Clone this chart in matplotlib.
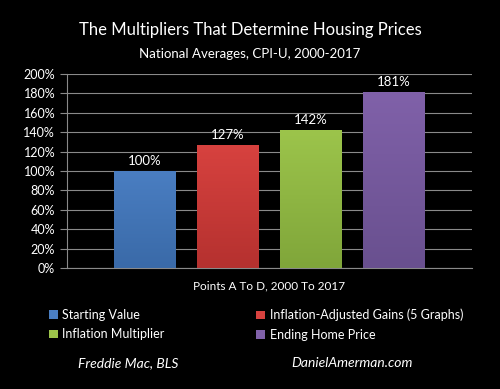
import numpy as np
import matplotlib.pyplot as plt
from matplotlib.patches import Patch
from matplotlib.colors import LinearSegmentedColormap

# data
series = ['Starting Value', 'Inflation-Adjusted Gains (5 Graphs)',
          'Inflation Multiplier', 'Ending Home Price']
values = [100, 127, 142, 181]
colors = ['#4a7ec2', '#d7423f', '#9cc44b', '#8061a9']
dark_colors = ['#3a6aa8', '#b5312f', '#80a63a', '#69508f']
yticks = [0, 20, 40, 60, 80, 100, 120, 140, 160, 180, 200]

plt.rcParams['font.family'] = ['Lato', 'DejaVu Sans']

fig = plt.figure(figsize=(5, 3.89), dpi=100, facecolor='black')
ax = fig.add_axes([0.134, 0.311, 0.81, 0.499], facecolor='black')

x = np.arange(len(values))
bars = ax.bar(x, values, width=0.747, color=colors, zorder=3,
              edgecolor='none')
# soft vertical gradient on each bar, like the office-style fill
grad = np.linspace(0, 1, 100).reshape(-1, 1)
for b, c, d, v in zip(bars, colors, dark_colors, values):
    cmap = LinearSegmentedColormap.from_list('g', [d, c])
    x0 = b.get_x()
    im = ax.imshow(grad, cmap=cmap, aspect='auto', origin='lower',
                   extent=(x0, x0 + b.get_width(), 0, v), zorder=3)
    im.set_clip_path(b)
    ax.text(x0 + b.get_width() / 2, v + 4, '%d%%' % v,
            ha='center', va='bottom', color='white', fontsize=9.5)

ax.set_xlim(-0.94, 3.94)
ax.set_ylim(0, 200)
ax.set_yticks(yticks)
ax.set_yticklabels(['%d%%' % t for t in yticks])
ax.yaxis.grid(True, color='#8a8a8a', linewidth=0.8, zorder=0)
ax.set_xticks([])
ax.tick_params(axis='y', colors='#8a8a8a', labelcolor='white',
               labelsize=9, length=5, width=0.8)
for s in ['top', 'right']:
    ax.spines[s].set_visible(False)
ax.spines['left'].set_color('#8a8a8a')
ax.spines['bottom'].set_color('#8a8a8a')

ax.set_xlabel('Points A To D, 2000 To 2017', color='white',
              fontsize=8.5, labelpad=9)

fig.text(0.5, 0.922, 'The Multipliers That Determine Housing Prices',
         ha='center', va='center', color='white', fontsize=12)
fig.text(0.5, 0.862, 'National Averages, CPI-U, 2000-2017',
         ha='center', va='center', color='white', fontsize=9.5)

# two legend columns, filled row by row like the reference
handles = [Patch(facecolor=c) for c in colors]
for col, xpos in [(0, 0.075), (1, 0.49)]:
    fig.legend(handles[col::2], series[col::2], loc='upper left',
               bbox_to_anchor=(xpos, 0.235), frameon=False,
               fontsize=9, labelcolor='white', handlelength=0.7,
               handleheight=0.7, handletextpad=0.4, labelspacing=0.6)

fig.text(0.256, 0.066, 'Freddie Mac, BLS', ha='center', va='center',
         color='white', fontsize=10, style='italic')
fig.text(0.704, 0.066, 'DanielAmerman.com', ha='center', va='center',
         color='white', fontsize=10, style='italic')

fig.savefig('out.png', dpi=100, facecolor='black')
